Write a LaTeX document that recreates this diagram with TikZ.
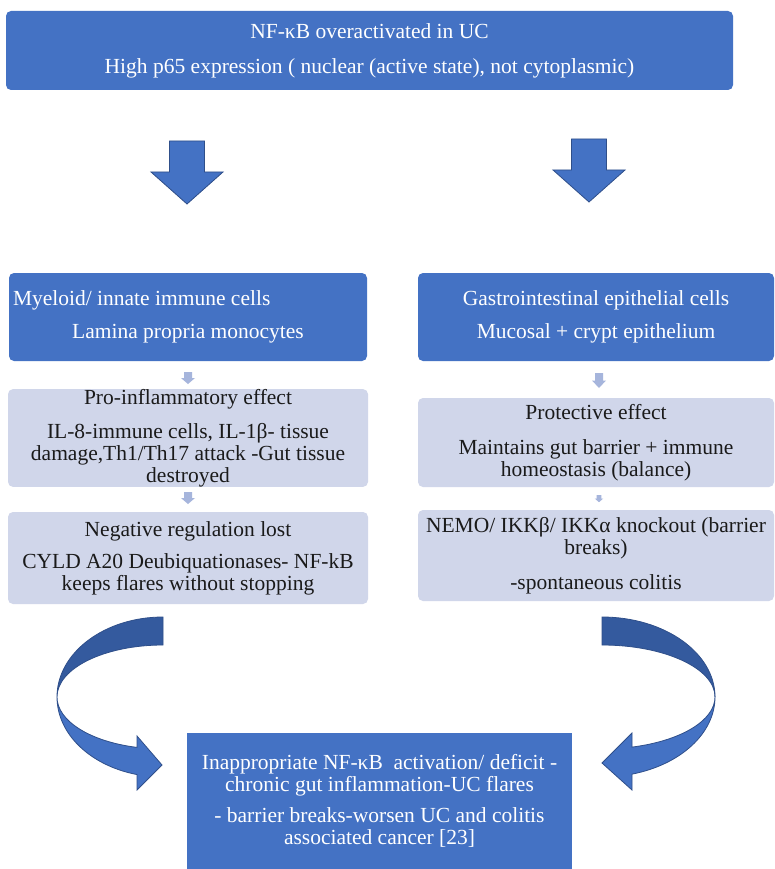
\documentclass[tikz,border=0pt]{standalone}
\usepackage{fontspec}
\setmainfont{Liberation Serif}
\definecolor{boxblue}{HTML}{4472C4}
\definecolor{boxlight}{HTML}{D0D6EA}
\definecolor{arrlight}{HTML}{A6B5DC}
\definecolor{txtdark}{HTML}{1A1A1A}
\definecolor{arrdark}{HTML}{345A9E}
\definecolor{arrline}{HTML}{2F4F8A}
\begin{document}
\begin{tikzpicture}[x=1pt,y=-1pt,
  every node/.style={font=\fontsize{21.5}{22}\selectfont, inner sep=0pt, align=center},
  bluebox/.style={fill=boxblue, rounded corners=5pt, text=white},
  lightbox/.style={fill=boxlight, rounded corners=5pt, text=txtdark},
  bigdown/.pic={\filldraw[fill=boxblue, draw=arrline, line width=0.8pt]
     (-17.5,0) -- (17.5,0) -- (17.5,31) -- (36,31) -- (0,63) -- (-36,31) -- (-17.5,31) -- cycle;},
  smalldown/.pic={\fill[arrlight]
     (-4,0) -- (4,0) -- (4,6) -- (7,6) -- (0,12) -- (-7,6) -- (-4,6) -- cycle;},
  curvedark/.style={fill=arrdark, draw=arrline, line width=0.8pt},
  curvelight/.style={fill=boxblue, draw=arrline, line width=0.8pt}]
\useasboundingbox (0,0) rectangle (775,869);
\fill[white] (0,0) rectangle (775,869);

% top box
\node[bluebox, minimum width=727, minimum height=79] (top) at (369.5,50.5)
  {NF-κB overactivated in UC\\[13pt]High p65 expression ( nuclear (active state), not cytoplasmic)};

% big down arrows
\pic at (187,141) {bigdown};
\pic at (589,139) {bigdown};

% left column
\node[bluebox, minimum width=358, minimum height=88] (lb) at (188,317)
  {\makebox[350pt][l]{Myeloid/ innate immune cells}\\[11pt]Lamina propria monocytes};
\node[lightbox, minimum width=360, minimum height=90] (pro) at (188,438)
  {Pro-inflammatory effect\\[12pt]IL-8-immune cells, IL-1β- tissue\\damage,Th1/Th17 attack -Gut tissue\\destroyed};
\node[lightbox, minimum width=360, minimum height=92] (neg) at (188,558)
  {Negative regulation lost\\[10pt]CYLD A20 Deubiquationases- NF-kB\\keeps flares without stopping};

% right column
\node[bluebox, minimum width=356, minimum height=88] (rb) at (596,317)
  {Gastrointestinal epithelial cells\\[11pt]Mucosal + crypt epithelium};
\node[lightbox, minimum width=356, minimum height=89] (prot) at (596,442.5)
  {Protective effect\\[13pt]Maintains gut barrier + immune\\homeostasis (balance)};
\node[lightbox, minimum width=356, minimum height=91] (nemo) at (596,555.5)
  {NEMO/ IKKβ/ IKKα knockout (barrier\\breaks)\\[13pt]-spontaneous colitis};

% small arrows
\pic at (188,372) {smalldown};
\pic at (188,492) {smalldown};
\pic[yscale=1.25] at (599,373) {smalldown};
\pic[scale=0.6] at (599,495) {smalldown};

% bottom box
\node[fill=boxblue, text=white, minimum width=385, minimum height=136] (bot) at (379.5,801)
  {Inappropriate NF-κB\ \ activation/ deficit -\\chronic gut inflammation-UC flares\\[9pt]- barrier breaks-worsen UC and colitis\\associated cancer [23]};

% curved arrows (left)
\filldraw[curvedark] (163,617) arc[start angle=270, end angle=180, x radius=106, y radius=80]
  arc[start angle=180, end angle=270, x radius=106, y radius=52] -- cycle;
\filldraw[curvelight] (57,697) arc[start angle=180, end angle=104.2, x radius=106, y radius=80]
  -- (137,790) -- (162,765) -- (137,736) -- (137,747.4)
  arc[start angle=104.2, end angle=180, x radius=106, y radius=52] -- cycle;

% curved arrows (right)
\filldraw[curvedark] (602,617) arc[start angle=270, end angle=360, x radius=113, y radius=80]
  arc[start angle=0, end angle=-90, x radius=113, y radius=52] -- cycle;
\filldraw[curvelight] (715,697) arc[start angle=0, end angle=74.6, x radius=113, y radius=80]
  -- (632,790) -- (602,763) -- (632,733) -- (632,747.1)
  arc[start angle=74.6, end angle=0, x radius=113, y radius=52] -- cycle;
\end{tikzpicture}
\end{document}
